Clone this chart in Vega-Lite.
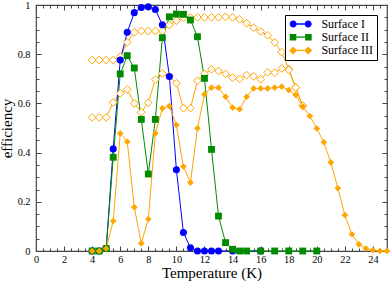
{
"$schema": "https://vega.github.io/schema/vega-lite/v6.json",
"width": 351, "height": 246,
"autosize": "none",
"padding": {"left": 36, "top": 5, "right": 3, "bottom": 30},
"config": {
 "view": {"stroke": "#444", "strokeWidth": 1.2},
 "axis": {"domain": false, "grid": false, "labelFont": "Liberation Serif", "titleFont": "Liberation Serif", "labelFontSize": 10.3, "titleFontSize": 15, "titleFontWeight": "normal", "tickColor": "#444", "labelColor": "black", "titleColor": "black", "labelFlush": false}
},
"data": {"values": [
{"s":"open A","x":4,"y":0.776},{"s":"open A","x":4.5,"y":0.776},{"s":"open A","x":5,"y":0.776},{"s":"open A","x":5.5,"y":0.776},{"s":"open A","x":6,"y":0.79},{"s":"open A","x":6.5,"y":0.848},{"s":"open A","x":7,"y":0.889},{"s":"open A","x":7.5,"y":0.894},{"s":"open A","x":8,"y":0.894},{"s":"open A","x":8.5,"y":0.894},{"s":"open A","x":9,"y":0.894},{"s":"open A","x":9.5,"y":0.919},{"s":"open A","x":10,"y":0.936},{"s":"open A","x":10.5,"y":0.948},{"s":"open A","x":11,"y":0.949},{"s":"open A","x":11.5,"y":0.95},{"s":"open A","x":12,"y":0.95},{"s":"open A","x":12.5,"y":0.95},{"s":"open A","x":13,"y":0.95},{"s":"open A","x":13.5,"y":0.952},{"s":"open A","x":14,"y":0.95},{"s":"open A","x":14.5,"y":0.942},{"s":"open A","x":15,"y":0.926},{"s":"open A","x":15.5,"y":0.908},{"s":"open A","x":16,"y":0.892},{"s":"open A","x":16.5,"y":0.877},{"s":"open A","x":17,"y":0.848},{"s":"open A","x":17.5,"y":0.808},{"s":"open A","x":18,"y":0.74},{"s":"open A","x":18.5,"y":0.665},{"s":"open A","x":19,"y":0.59},
{"s":"open B","x":4,"y":0.543},{"s":"open B","x":4.5,"y":0.543},{"s":"open B","x":5,"y":0.543},{"s":"open B","x":5.5,"y":0.604},{"s":"open B","x":6,"y":0.641},{"s":"open B","x":6.5,"y":0.657},{"s":"open B","x":7,"y":0.6},{"s":"open B","x":7.5,"y":0.564},{"s":"open B","x":8,"y":0.603},{"s":"open B","x":8.5,"y":0.697},{"s":"open B","x":9,"y":0.722},{"s":"open B","x":9.5,"y":0.711},{"s":"open B","x":10,"y":0.682},{"s":"open B","x":10.5,"y":0.58},{"s":"open B","x":11,"y":0.58},{"s":"open B","x":11.5,"y":0.692},{"s":"open B","x":12,"y":0.72},{"s":"open B","x":12.5,"y":0.739},{"s":"open B","x":13,"y":0.732},{"s":"open B","x":13.5,"y":0.72},{"s":"open B","x":14,"y":0.705},{"s":"open B","x":14.5,"y":0.7},{"s":"open B","x":15,"y":0.715},{"s":"open B","x":15.5,"y":0.71},{"s":"open B","x":16,"y":0.698},{"s":"open B","x":16.5,"y":0.726},{"s":"open B","x":17,"y":0.725},{"s":"open B","x":17.5,"y":0.742},{"s":"open B","x":18,"y":0.736},{"s":"open B","x":18.5,"y":0.664},{"s":"open B","x":19,"y":0.59},
{"s":"Surface I","x":4,"y":0},{"s":"Surface I","x":4.5,"y":0},{"s":"Surface I","x":5,"y":0.01},{"s":"Surface I","x":5.5,"y":0.415},{"s":"Surface I","x":6,"y":0.776},{"s":"Surface I","x":6.5,"y":0.889},{"s":"Surface I","x":7,"y":0.969},{"s":"Surface I","x":7.5,"y":0.99},{"s":"Surface I","x":8,"y":0.993},{"s":"Surface I","x":8.5,"y":0.982},{"s":"Surface I","x":9,"y":0.92},{"s":"Surface I","x":9.5,"y":0.709},{"s":"Surface I","x":10,"y":0.33},{"s":"Surface I","x":10.5,"y":0.075},{"s":"Surface I","x":11,"y":0.013},{"s":"Surface I","x":11.5,"y":0},{"s":"Surface I","x":12,"y":0},{"s":"Surface I","x":12.5,"y":0},{"s":"Surface I","x":13,"y":0},{"s":"Surface I","x":14,"y":0},{"s":"Surface I","x":16,"y":0},
{"s":"Surface II","x":4,"y":0},{"s":"Surface II","x":4.5,"y":0},{"s":"Surface II","x":5,"y":0.01},{"s":"Surface II","x":5.5,"y":0.381},{"s":"Surface II","x":6,"y":0.72},{"s":"Surface II","x":6.5,"y":0.794},{"s":"Surface II","x":7,"y":0.744},{"s":"Surface II","x":7.5,"y":0.535},{"s":"Surface II","x":8,"y":0.313},{"s":"Surface II","x":8.5,"y":0.535},{"s":"Surface II","x":9,"y":0.867},{"s":"Surface II","x":9.5,"y":0.952},{"s":"Surface II","x":10,"y":0.963},{"s":"Surface II","x":10.5,"y":0.962},{"s":"Surface II","x":11,"y":0.939},{"s":"Surface II","x":11.5,"y":0.871},{"s":"Surface II","x":12,"y":0.702},{"s":"Surface II","x":12.5,"y":0.413},{"s":"Surface II","x":13,"y":0.142},{"s":"Surface II","x":13.5,"y":0.034},{"s":"Surface II","x":14,"y":0.007},{"s":"Surface II","x":14.5,"y":0},{"s":"Surface II","x":15,"y":0},{"s":"Surface II","x":16,"y":0},{"s":"Surface II","x":17,"y":0},{"s":"Surface II","x":18,"y":0},{"s":"Surface II","x":19,"y":0},{"s":"Surface II","x":20,"y":0},
{"s":"Surface III","x":4,"y":0},{"s":"Surface III","x":4.5,"y":0},{"s":"Surface III","x":5,"y":0.01},{"s":"Surface III","x":5.5,"y":0.122},{"s":"Surface III","x":6,"y":0.478},{"s":"Surface III","x":6.5,"y":0.444},{"s":"Surface III","x":7,"y":0.178},{"s":"Surface III","x":7.5,"y":0.031},{"s":"Surface III","x":8,"y":0.13},{"s":"Surface III","x":8.5,"y":0.478},{"s":"Surface III","x":9,"y":0.58},{"s":"Surface III","x":9.5,"y":0.589},{"s":"Surface III","x":10,"y":0.512},{"s":"Surface III","x":10.5,"y":0.343},{"s":"Surface III","x":11,"y":0.278},{"s":"Surface III","x":11.5,"y":0.499},{"s":"Surface III","x":12,"y":0.637},{"s":"Surface III","x":12.5,"y":0.664},{"s":"Surface III","x":13,"y":0.664},{"s":"Surface III","x":13.5,"y":0.627},{"s":"Surface III","x":14,"y":0.583},{"s":"Surface III","x":14.5,"y":0.576},{"s":"Surface III","x":15,"y":0.627},{"s":"Surface III","x":15.5,"y":0.661},{"s":"Surface III","x":16,"y":0.661},{"s":"Surface III","x":16.5,"y":0.661},{"s":"Surface III","x":17,"y":0.664},{"s":"Surface III","x":17.5,"y":0.668},{"s":"Surface III","x":18,"y":0.654},{"s":"Surface III","x":18.5,"y":0.634},{"s":"Surface III","x":19,"y":0.587},{"s":"Surface III","x":19.5,"y":0.549},{"s":"Surface III","x":20,"y":0.498},{"s":"Surface III","x":20.5,"y":0.442},{"s":"Surface III","x":21,"y":0.36},{"s":"Surface III","x":21.5,"y":0.255},{"s":"Surface III","x":22,"y":0.146},{"s":"Surface III","x":22.5,"y":0.068},{"s":"Surface III","x":23,"y":0.027},{"s":"Surface III","x":23.5,"y":0.01},{"s":"Surface III","x":24,"y":0.003},{"s":"Surface III","x":24.5,"y":0},{"s":"Surface III","x":25,"y":0}
]},
"layer": [
 {
  "mark": {"type": "line", "strokeWidth": 1},
  "encoding": {
   "x": {"field": "x", "type": "quantitative", "scale": {"domain": [0, 25], "nice": false, "zero": false},
     "axis": {"orient": "bottom", "values": [0,2,4,6,8,10,12,14,16,18,20,22,24], "tickSize": -5, "labelPadding": 8, "format": "d", "title": "Temperature (K)", "titleBaseline": "alphabetic", "titleY": 26}},
   "y": {"field": "y", "type": "quantitative", "scale": {"domain": [0, 1], "nice": false},
     "axis": {"orient": "left", "values": [0,0.2,0.4,0.6,0.8,1], "tickSize": -5, "labelPadding": 11, "format": "~g", "title": "efficiency", "titleX": -25, "titleBaseline": "alphabetic"}},
   "color": {"field": "s", "type": "nominal", "scale": {"domain": ["open A","open B","Surface I","Surface II","Surface III"], "range": ["#ffa500","#ffa500","#0000ff","#008b00","#ffa500"]}, "legend": null}
  }
 },
 {
  "transform": [{"filter": {"field": "s", "oneOf": ["open A", "open B"]}}],
  "mark": {"type": "point", "shape": "diamond", "filled": true, "fill": "white", "stroke": "#ffa500", "strokeWidth": 1, "size": 60, "opacity": 1},
  "encoding": {
   "x": {"field": "x", "type": "quantitative", "axis": {"orient": "bottom", "values": [0,0.5,1,1.5,2,2.5,3,3.5,4,4.5,5,5.5,6,6.5,7,7.5,8,8.5,9,9.5,10,10.5,11,11.5,12,12.5,13,13.5,14,14.5,15,15.5,16,16.5,17,17.5,18,18.5,19,19.5,20,20.5,21,21.5,22,22.5,23,23.5,24,24.5,25], "tickSize": -3, "labels": false, "title": null}},
   "y": {"field": "y", "type": "quantitative", "axis": {"orient": "left", "values": [0,0.05,0.1,0.15,0.2,0.25,0.3,0.35,0.4,0.45,0.5,0.55,0.6,0.65,0.7,0.75,0.8,0.85,0.9,0.95,1], "tickSize": -3, "labels": false, "title": null}}
  }
 },
 {
  "transform": [{"filter": {"field": "s", "oneOf": ["Surface I", "Surface II", "Surface III"]}}],
  "mark": {"type": "point", "filled": true, "opacity": 1, "strokeWidth": 0},
  "encoding": {
   "x": {"field": "x", "type": "quantitative", "axis": {"orient": "top", "values": [0,2,4,6,8,10,12,14,16,18,20,22,24], "tickSize": -5, "labels": false, "title": null}},
   "y": {"field": "y", "type": "quantitative", "axis": {"orient": "right", "values": [0,0.2,0.4,0.6,0.8,1], "tickSize": -5, "labels": false, "title": null}},
   "color": {"field": "s", "type": "nominal", "scale": {"domain": ["Surface I","Surface II","Surface III"], "range": ["#0000ff","#008b00","#ffa500"]}, "legend": null},
   "shape": {"field": "s", "type": "nominal", "scale": {"domain": ["Surface I","Surface II","Surface III"], "range": ["circle","square","diamond"]}, "legend": null},
   "size": {"field": "s", "type": "ordinal", "scale": {"domain": ["Surface I","Surface II","Surface III"], "range": [50, 44, 72]}, "legend": null}
  }
 },
 {
  "transform": [{"filter": "datum.x < -100"}],
  "mark": {"type": "point", "filled": true, "opacity": 1, "strokeWidth": 0},
  "encoding": {
   "x": {"field": "x", "type": "quantitative", "axis": {"orient": "top", "values": [0,0.5,1,1.5,2,2.5,3,3.5,4,4.5,5,5.5,6,6.5,7,7.5,8,8.5,9,9.5,10,10.5,11,11.5,12,12.5,13,13.5,14,14.5,15,15.5,16,16.5,17,17.5,18,18.5,19,19.5,20,20.5,21,21.5,22,22.5,23,23.5,24,24.5,25], "tickSize": -3, "labels": false, "title": null}},
   "y": {"field": "y", "type": "quantitative", "axis": {"orient": "right", "values": [0,0.05,0.1,0.15,0.2,0.25,0.3,0.35,0.4,0.45,0.5,0.55,0.6,0.65,0.7,0.75,0.8,0.85,0.9,0.95,1], "tickSize": -3, "labels": false, "title": null}},
   "color": {"field": "s", "type": "nominal", "scale": {"domain": ["Surface I","Surface II","Surface III"], "range": ["#0000ff","#008b00","#ffa500"]},
     "legend": {"title": null, "orient": "top-right", "offset": 10, "padding": 3, "strokeColor": "black", "fillColor": "white", "symbolSize": 121, "symbolOffset": 6.7, "labelOffset": 14.7, "labelFont": "Liberation Serif", "labelFontSize": 12, "rowPadding": 1.2, "symbolStrokeWidth": 0}},
   "shape": {"field": "s", "type": "nominal", "scale": {"domain": ["Surface I","Surface II","Surface III"], "range": [
     "M-2,0 A0.636,0.636 0 1,0 -0.728,0 A0.636,0.636 0 1,0 -2,0 Z M0.728,0 A0.636,0.636 0 1,0 2,0 A0.636,0.636 0 1,0 0.728,0 Z M-0.728,-0.12 H0.728 V0.12 H-0.728 Z",
     "M-2,-0.6 H-0.8 V0.6 H-2 Z M0.8,-0.6 H2 V0.6 H0.8 Z M-0.8,-0.12 H0.8 V0.12 H-0.8 Z",
     "M-2.09,0 L-1.364,-0.727 L-0.637,0 L-1.364,0.727 Z M0.637,0 L1.364,-0.727 L2.09,0 L1.364,0.727 Z M-0.637,-0.12 H0.637 V0.12 H-0.637 Z"]},
     "legend": {"title": null, "orient": "top-right", "offset": 10, "padding": 3, "strokeColor": "black", "fillColor": "white", "symbolSize": 121, "symbolOffset": 6.7, "labelOffset": 14.7, "labelFont": "Liberation Serif", "labelFontSize": 12, "rowPadding": 1.2, "symbolStrokeWidth": 0}}
  }
 }
],
"resolve": {"scale": {"color": "independent", "shape": "independent"}, "axis": {"x": "independent", "y": "independent"}}
}
